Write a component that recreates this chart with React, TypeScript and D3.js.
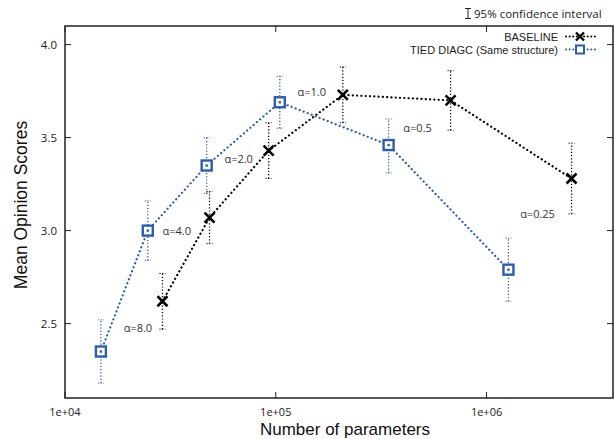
import React, { useEffect, useRef } from 'react';
import * as d3 from 'd3';

// values
const baselineParams = [29000, 48500, 92500, 208000, 675000, 2530000];
const baselineMos = [2.62, 3.07, 3.43, 3.73, 3.70, 3.28];
const baselineLow = [2.47, 2.93, 3.28, 3.58, 3.54, 3.09];
const baselineHigh = [2.77, 3.21, 3.58, 3.88, 3.86, 3.47];

const tiedParams = [14800, 24700, 47000, 104500, 343000, 1270000];
const tiedMos = [2.35, 3.0, 3.35, 3.69, 3.46, 2.79];
const tiedLow = [2.18, 2.84, 3.2, 3.55, 3.31, 2.62];
const tiedHigh = [2.52, 3.16, 3.5, 3.83, 3.6, 2.96];

const alphaLabels = ['α=8.0', 'α=4.0', 'α=2.0', 'α=1.0', 'α=0.5', 'α=0.25'];
const xTicks = [1e4, 1e5, 1e6];
const yTicks = [2.5, 3.0, 3.5, 4.0];

const W = 614;
const H = 439;
const M = { left: 65, right: 613, top: 26, bottom: 398 };
const BLUE = '#2a5db0';

// where each alpha label sits, relative to a point of one series
const labelAnchors = [
  { series: 'tied', i: 0, dx: 37, dy: -24 },
  { series: 'tied', i: 1, dx: 29, dy: 0 },
  { series: 'tied', i: 2, dx: 32, dy: -7 },
  { series: 'tied', i: 3, dx: 32, dy: -10 },
  { series: 'tied', i: 4, dx: 29, dy: -17 },
  { series: 'base', i: 5, dx: -34, dy: 35 },
];

const App = () => {
  const ref = useRef<SVGSVGElement>(null);

  useEffect(() => {
    document.body.style.margin = '0';
    const svg = d3.select(ref.current);
    svg.selectAll('*').remove();

    const x = d3.scaleLog().domain([1e4, 3.98e6]).range([M.left, M.right]);
    const y = d3.scaleLinear().domain([2.1, 4.1]).range([M.bottom, M.top]);

    const sans = 'Liberation Sans, Arial, sans-serif';
    const tickFont = 'Open Sans, sans-serif';

    // frame
    svg.append('rect')
      .attr('x', M.left).attr('y', M.top)
      .attr('width', M.right - M.left).attr('height', M.bottom - M.top)
      .attr('fill', 'none').attr('stroke', '#222').attr('stroke-width', 1.5);

    // ticks, inward on all sides
    xTicks.forEach(t => {
      svg.append('line').attr('x1', x(t)).attr('x2', x(t))
        .attr('y1', M.bottom).attr('y2', M.bottom - 6).attr('stroke', '#222');
      svg.append('line').attr('x1', x(t)).attr('x2', x(t))
        .attr('y1', M.top).attr('y2', M.top + 6).attr('stroke', '#222');
      svg.append('text').attr('x', x(t)).attr('y', M.bottom + 17.5)
        .attr('text-anchor', 'middle').attr('font-family', tickFont)
        .attr('font-size', 11).attr('fill', '#222')
        .text(d3.format('.0e')(t).replace('e+', 'e+0'));
    });
    yTicks.forEach(t => {
      svg.append('line').attr('x1', M.left).attr('x2', M.left + 6)
        .attr('y1', y(t)).attr('y2', y(t)).attr('stroke', '#222');
      svg.append('line').attr('x1', M.right).attr('x2', M.right - 6)
        .attr('y1', y(t)).attr('y2', y(t)).attr('stroke', '#222');
      svg.append('text').attr('x', M.left - 8).attr('y', y(t) + 4)
        .attr('text-anchor', 'end').attr('font-family', tickFont)
        .attr('font-size', 11.5).attr('fill', '#222')
        .text(d3.format('.1f')(t));
    });

    // axis titles
    svg.append('text').attr('x', (M.left + M.right) / 2 + 6).attr('y', 435)
      .attr('text-anchor', 'middle').attr('font-family', sans)
      .attr('font-size', 17).attr('fill', '#111').text('Number of parameters');
    svg.append('text')
      .attr('transform', `translate(27, ${(M.top + M.bottom) / 2 - 7}) rotate(-90)`)
      .attr('text-anchor', 'middle').attr('font-family', sans)
      .attr('font-size', 17.5).attr('fill', '#111').text('Mean Opinion Scores');

    const drawMarker = (cx: number, cy: number, marker: string) => {
      if (marker === 'x') {
        const s = 5;
        svg.append('path')
          .attr('d', `M${cx - s},${cy - s}L${cx + s},${cy + s}M${cx - s},${cy + s}L${cx + s},${cy - s}`)
          .attr('stroke', '#000').attr('stroke-width', 2.6);
      } else {
        svg.append('rect').attr('x', cx - 5).attr('y', cy - 5)
          .attr('width', 10).attr('height', 10)
          .attr('fill', '#fff').attr('stroke', BLUE).attr('stroke-width', 2.4);
        svg.append('rect').attr('x', cx - 1.2).attr('y', cy - 1.2)
          .attr('width', 2.4).attr('height', 2.4).attr('fill', BLUE);
      }
    };

    const drawSeries = (px: number[], mos: number[], lo: number[], hi: number[], color: string, marker: string) => {
      // error bars
      px.forEach((p, i) => {
        const cx = x(p);
        svg.append('line').attr('x1', cx).attr('x2', cx)
          .attr('y1', y(lo[i])).attr('y2', y(hi[i]))
          .attr('stroke', color).attr('stroke-width', 1.3)
          .attr('stroke-dasharray', '1.2,2');
        [lo[i], hi[i]].forEach(v => {
          svg.append('line').attr('x1', cx - 3).attr('x2', cx + 3)
            .attr('y1', y(v)).attr('y2', y(v))
            .attr('stroke', color).attr('stroke-width', 1)
            .attr('stroke-dasharray', '1.2,1.5');
        });
      });
      // dotted connecting line
      const pts = px.map((p, i) => [x(p), y(mos[i])] as [number, number]);
      svg.append('path').attr('d', d3.line()(pts))
        .attr('fill', 'none').attr('stroke', color).attr('stroke-width', 2.2)
        .attr('stroke-linecap', 'round').attr('stroke-dasharray', '0.1,4.2');
      pts.forEach(([cx, cy]) => drawMarker(cx, cy, marker));
    };

    drawSeries(baselineParams, baselineMos, baselineLow, baselineHigh, '#000', 'x');
    drawSeries(tiedParams, tiedMos, tiedLow, tiedHigh, BLUE, 'sq');

    // alpha labels
    labelAnchors.forEach((a, k) => {
      const px = a.series === 'tied' ? tiedParams : baselineParams;
      const mos = a.series === 'tied' ? tiedMos : baselineMos;
      svg.append('text')
        .attr('x', x(px[a.i]) + a.dx).attr('y', y(mos[a.i]) + a.dy + 4)
        .attr('text-anchor', 'middle').attr('font-family', tickFont)
        .attr('font-size', 11).attr('fill', '#333').text(alphaLabels[k]);
    });

    // legend
    const legend = [
      { name: 'BASELINE', color: '#000', marker: 'x' },
      { name: 'TIED DIAGC (Same structure)', color: BLUE, marker: 'sq' },
    ];
    legend.forEach((l, i) => {
      const ly = 36.5 + i * 13;
      svg.append('text').attr('x', 558).attr('y', ly + 4)
        .attr('text-anchor', 'end').attr('font-family', sans)
        .attr('font-size', 11).attr('fill', '#222').text(l.name);
      svg.append('line').attr('x1', 566).attr('x2', 595)
        .attr('y1', ly).attr('y2', ly)
        .attr('stroke', l.color).attr('stroke-width', 2)
        .attr('stroke-linecap', 'round').attr('stroke-dasharray', '0.1,3.5');
      if (l.marker === 'x') {
        const s = 4, cx = 580;
        svg.append('path')
          .attr('d', `M${cx - s},${ly - s}L${cx + s},${ly + s}M${cx - s},${ly + s}L${cx + s},${ly - s}`)
          .attr('stroke', '#000').attr('stroke-width', 2.4);
      } else {
        svg.append('rect').attr('x', 576).attr('y', ly - 4)
          .attr('width', 8).attr('height', 8)
          .attr('fill', '#fff').attr('stroke', BLUE).attr('stroke-width', 2);
      }
    });

    // confidence interval note
    svg.append('path').attr('d', 'M465,8.5H471M468,8.5V18.5M465,18.5H471')
      .attr('stroke', '#222').attr('stroke-width', 1).attr('fill', 'none');
    svg.append('text').attr('x', 474).attr('y', 18)
      .attr('font-family', tickFont).attr('font-size', 11.5).attr('fill', '#222')
      .text('95% confidence interval');
  }, []);

  return (
    <svg ref={ref} width={W} height={H}
      style={{ position: 'absolute', left: 0, top: 0, background: '#fff' }} />
  );
};

export default App;
